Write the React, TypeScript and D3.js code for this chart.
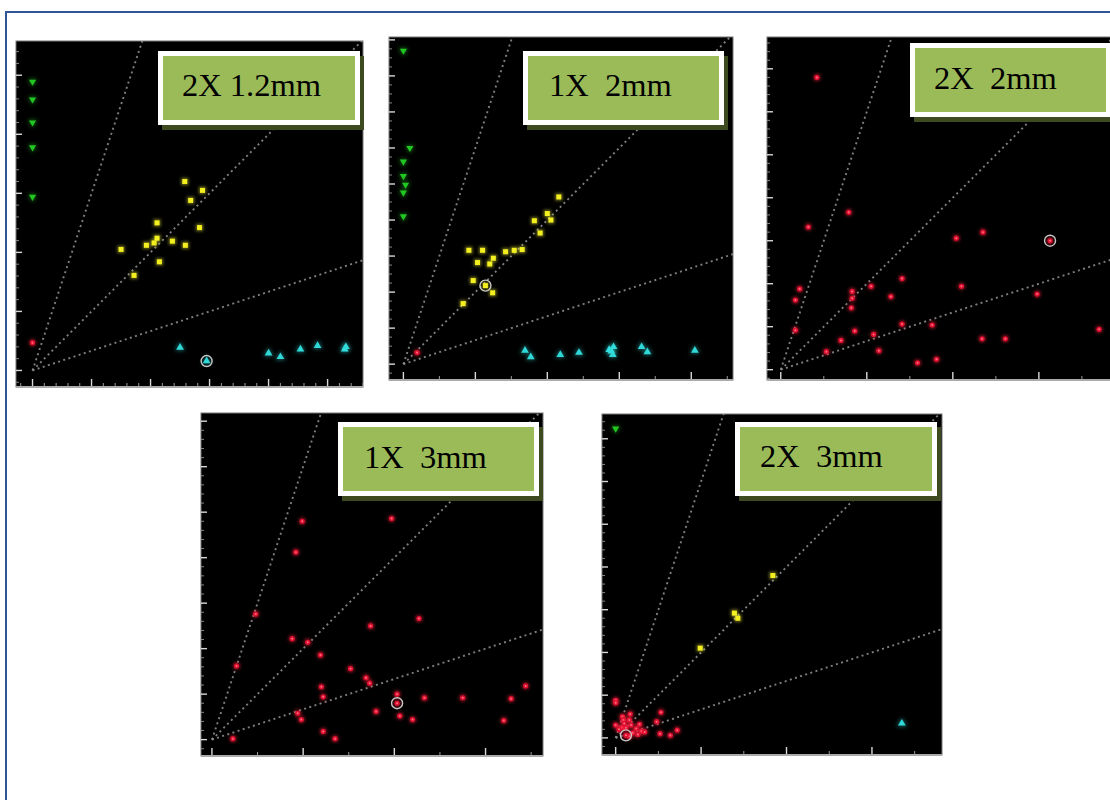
import React from 'react';
import * as d3 from 'd3';

type Pt = [number, number];

// ---------- labels ----------
const panelLabels = ["2X 1.2mm", "1X  2mm", "2X  2mm", "1X  3mm", "2X  3mm"];

// ---------- reference line slopes ----------
const refSlopes = [3, 1, 1 / 3];

// ---------- axis extents (data units) ----------
const xDomains: Pt[] = [[-0.28, 5.6], [-0.2, 4.58], [-0.16, 3.85], [-0.12, 3.63], [-0.16, 3.82]];
const yDomains: Pt[] = [[-0.28, 5.58], [-0.22, 4.54], [-0.12, 3.87], [-0.18, 3.59], [-0.2, 3.79]];
const xMajorSteps = [1, 1, 1, 1, 1];
const xMinorSteps = [0.2, 0.5, 0.5, 0.5, 0.5];
const yMajorSteps = [1, 0.5, 0.5, 0.5, 0.5];
const yMinorSteps = [0.2, 0.125, 0.1, 0.1, 0.1];

// ---------- panel 1: 2X 1.2mm ----------
const p1Green: Pt[] = [[0, 4.89], [0, 4.59], [0, 4.2], [0, 3.78], [0, 2.94]];
const p1Red: Pt[] = [[0, 0.47]];
const p1Yellow: Pt[] = [[2.58, 3.2], [2.88, 3.05], [2.68, 2.88], [2.11, 2.5], [2.83, 2.42], [2.11, 2.24], [2.06, 2.16], [1.93, 2.12], [2.37, 2.19], [2.59, 2.12], [1.5, 2.05], [2.15, 1.84], [1.72, 1.61]];
const p1Cyan: Pt[] = [[2.5, 0.39], [2.95, 0.16], [4.0, 0.29], [4.2, 0.23], [4.54, 0.36], [4.83, 0.42], [5.29, 0.36], [5.31, 0.4]];
const p1Highlight: Pt = [2.95, 0.16];

// ---------- panel 2: 1X 2mm ----------
const p2Green: Pt[] = [[0, 4.35], [0.09, 3.0], [0, 2.81], [0, 2.61], [0.03, 2.49], [0, 2.38], [0, 2.05]];
const p2Red: Pt[] = [[0.19, 0.16]];
const p2Yellow: Pt[] = [[2.16, 2.32], [2.0, 2.09], [1.82, 1.99], [2.05, 2.0], [1.9, 1.82], [0.91, 1.58], [1.1, 1.58], [1.42, 1.56], [1.54, 1.58], [1.65, 1.59], [1.03, 1.41], [1.2, 1.39], [1.25, 1.47], [0.97, 1.16], [1.14, 1.09], [1.24, 0.99], [0.83, 0.84]];
const p2Cyan: Pt[] = [[1.69, 0.19], [1.77, 0.1], [2.18, 0.13], [2.44, 0.16], [2.86, 0.2], [2.92, 0.24], [2.89, 0.18], [2.91, 0.13], [3.31, 0.24], [3.39, 0.17], [4.05, 0.19]];
const p2Highlight: Pt = [1.14, 1.09];

// ---------- panel 3: 2X 2mm ----------
const p3Red: Pt[] = [[0.42, 3.4], [0.79, 1.83], [0.32, 1.66], [2.04, 1.53], [2.35, 1.6], [3.13, 1.5], [1.41, 1.06], [1.05, 0.97], [2.1, 0.97], [0.22, 0.94], [0.17, 0.81], [0.83, 0.91], [0.83, 0.83], [1.28, 0.85], [0.82, 0.72], [2.98, 0.88], [0.17, 0.46], [0.86, 0.45], [1.41, 0.53], [1.76, 0.52], [1.08, 0.41], [0.7, 0.34], [0.53, 0.21], [1.14, 0.22], [2.34, 0.36], [2.61, 0.36], [1.59, 0.08], [1.81, 0.12], [3.7, 0.47]];
const p3Highlight: Pt = [3.13, 1.5];

// ---------- panel 4: 1X 3mm ----------
const p4Red: Pt[] = [[0.99, 2.4], [1.97, 2.43], [0.92, 2.06], [0.48, 1.38], [2.27, 1.33], [1.74, 1.25], [0.27, 0.81], [0.88, 1.11], [1.05, 1.07], [1.19, 0.93], [1.52, 0.78], [1.69, 0.68], [1.73, 0.62], [1.2, 0.58], [1.22, 0.47], [2.03, 0.5], [2.03, 0.4], [2.33, 0.46], [2.75, 0.46], [3.28, 0.45], [3.44, 0.59], [0.94, 0.29], [0.98, 0.22], [1.8, 0.31], [2.06, 0.26], [2.2, 0.22], [3.2, 0.21], [1.22, 0.09], [1.35, 0.01], [0.23, 0.01]];
const p4Highlight: Pt = [2.03, 0.4];

// ---------- panel 5: 2X 3mm ----------
const p5Green: Pt[] = [[0, 3.62]];
const p5Yellow: Pt[] = [[1.84, 1.9], [1.39, 1.46], [1.43, 1.4], [0.99, 1.05]];
const p5Cyan: Pt[] = [[3.35, 0.17]];
const p5Red: Pt[] = [[0.0, 0.44], [0.0, 0.41], [0.08, 0.25], [0.17, 0.28], [0.53, 0.3], [0.48, 0.19], [0.09, 0.21], [0.16, 0.21], [0.0, 0.15], [0.07, 0.12], [0.12, 0.12], [0.18, 0.15], [0.28, 0.16], [0.24, 0.11], [0.3, 0.08], [0.34, 0.07], [0.2, 0.06], [0.26, 0.04], [0.16, 0.02], [0.52, 0.05], [0.64, 0.03], [0.72, 0.09], [0.12, 0.03], [0.04, 0.1], [0.1, 0.17]];
const p5Highlight: Pt = [0.12, 0.03];

// ---------- layout (pixels) ----------
const panelBoxes = [
  { x: 16, y: 41, w: 347, h: 346 },
  { x: 389, y: 37, w: 344, h: 343 },
  { x: 767, y: 37, w: 345, h: 343 },
  { x: 201, y: 413, w: 342, h: 343 },
  { x: 602, y: 414, w: 340, h: 341 },
];
const labelBoxes = [
  { x: 158, y: 51, w: 202, h: 74, tx: 182, ty: 96 },
  { x: 523, y: 51, w: 201, h: 74, tx: 549, ty: 96 },
  { x: 910, y: 43, w: 201, h: 74, tx: 934, ty: 89 },
  { x: 338, y: 422, w: 201, h: 74, tx: 364, ty: 468 },
  { x: 735, y: 422, w: 202, h: 74, tx: 760, ty: 467 },
];

interface Series { pts: Pt[]; kind: 'green' | 'red' | 'yellow' | 'cyan' }
const panelSeries: Series[][] = [
  [{ pts: p1Green, kind: 'green' }, { pts: p1Red, kind: 'red' }, { pts: p1Yellow, kind: 'yellow' }, { pts: p1Cyan, kind: 'cyan' }],
  [{ pts: p2Green, kind: 'green' }, { pts: p2Red, kind: 'red' }, { pts: p2Yellow, kind: 'yellow' }, { pts: p2Cyan, kind: 'cyan' }],
  [{ pts: p3Red, kind: 'red' }],
  [{ pts: p4Red, kind: 'red' }],
  [{ pts: p5Green, kind: 'green' }, { pts: p5Red, kind: 'red' }, { pts: p5Yellow, kind: 'yellow' }, { pts: p5Cyan, kind: 'cyan' }],
];
const highlights: Pt[] = [p1Highlight, p2Highlight, p3Highlight, p4Highlight, p5Highlight];

const triUp = d3.symbol().type(d3.symbolTriangle).size(26)() as string;
const triDown = d3.symbol().type(d3.symbolTriangle).size(22)() as string;

function ticksBetween(lo: number, hi: number, step: number): number[] {
  const out: number[] = [];
  const start = Math.ceil(lo / step - 1e-9);
  for (let i = start; i * step <= hi + 1e-9; i++) out.push(+(i * step).toFixed(4));
  return out;
}

function Marker({ kind, x, y }: { kind: string; x: number; y: number }) {
  if (kind === 'yellow') {
    return (
      <g>
        <rect x={x - 3.8} y={y - 3.8} width={7.6} height={7.6} fill="#ffff40" opacity={0.4} filter="url(#glow)" />
        <rect x={x - 2.5} y={y - 2.5} width={5} height={5} fill="#f4f020" />
      </g>
    );
  }
  if (kind === 'red') {
    return (
      <g>
        <circle cx={x} cy={y} r={3.9} fill="#ff2040" opacity={0.45} filter="url(#glow)" />
        <circle cx={x} cy={y} r={2.6} fill="#e01030" />
        <circle cx={x} cy={y} r={1} fill="#ff7080" />
      </g>
    );
  }
  if (kind === 'green') {
    return (
      <g transform={`translate(${x},${y}) rotate(180)`}>
        <path d={triDown} fill="#30e030" opacity={0.45} filter="url(#glow)" transform="scale(1.35)" />
        <path d={triDown} fill="#22c822" />
      </g>
    );
  }
  return (
    <g transform={`translate(${x},${y})`}>
      <path d={triUp} fill="#40ffff" opacity={0.4} filter="url(#glow)" transform="scale(1.35)" />
      <path d={triUp} fill="#30d8d8" />
    </g>
  );
}

function Panel({ i }: { i: number }) {
  const b = panelBoxes[i];
  const x = d3.scaleLinear().domain(xDomains[i]).range([b.x, b.x + b.w]);
  const y = d3.scaleLinear().domain(yDomains[i]).range([b.y + b.h, b.y]);
  const xMaj = ticksBetween(xDomains[i][0], xDomains[i][1], xMajorSteps[i]);
  const xMin = ticksBetween(xDomains[i][0], xDomains[i][1], xMinorSteps[i]);
  const yMaj = ticksBetween(yDomains[i][0], yDomains[i][1], yMajorSteps[i]);
  const yMin = ticksBetween(yDomains[i][0], yDomains[i][1], yMinorSteps[i]);
  const isMaj = (v: number, s: number) => Math.abs(v / s - Math.round(v / s)) < 1e-6;
  const line = d3.line<Pt>().x(d => x(d[0])).y(d => y(d[1]));
  const far = 20;
  const lb = labelBoxes[i];
  const hl = highlights[i];
  const bottom = b.y + b.h;
  return (
    <g>
      <defs>
        <clipPath id={`clip${i}`}>
          <rect x={b.x} y={b.y} width={b.w} height={b.h} />
        </clipPath>
      </defs>
      <rect x={b.x} y={b.y} width={b.w} height={b.h} fill="#000" stroke="#777" strokeWidth={1} />
      <g clipPath={`url(#clip${i})`}>
        {refSlopes.map((s, k) => (
          <path key={k} d={line([[0, 0], [far, far * s]]) as string} stroke="#8c8c8c" strokeWidth={1.9} strokeDasharray="2,3.4" fill="none" opacity={0.9} />
        ))}
        {/* x ticks */}
        {xMin.filter(v => !isMaj(v, xMajorSteps[i])).map((v, k) => (
          <line key={'xm' + k} x1={x(v)} x2={x(v)} y1={bottom} y2={bottom - 4} stroke="#9a9a9a" strokeWidth={1} />
        ))}
        {xMaj.map((v, k) => (
          <line key={'xM' + k} x1={x(v)} x2={x(v)} y1={bottom} y2={bottom - 8} stroke="#d8d8d8" strokeWidth={1.4} />
        ))}
        {/* y ticks */}
        {yMin.filter(v => !isMaj(v, yMajorSteps[i])).map((v, k) => (
          <line key={'ym' + k} x1={b.x} x2={b.x + 3} y1={y(v)} y2={y(v)} stroke="#888" strokeWidth={1} />
        ))}
        {yMaj.map((v, k) => (
          <line key={'yM' + k} x1={b.x} x2={b.x + 6} y1={y(v)} y2={y(v)} stroke="#d8d8d8" strokeWidth={1.4} />
        ))}
        {panelSeries[i].map((s, k) => (
          <g key={k}>
            {s.pts.map((p, j) => <Marker key={j} kind={s.kind} x={x(p[0])} y={y(p[1])} />)}
          </g>
        ))}
        <circle cx={x(hl[0])} cy={y(hl[1])} r={5.5} fill="none" stroke="#c8c8c8" strokeWidth={1.4} />
      </g>
      <line x1={b.x} x2={b.x + b.w} y1={bottom} y2={bottom} stroke="#aaa" strokeWidth={2} />
      {/* label */}
      <rect x={lb.x + 4} y={lb.y + 5} width={lb.w} height={lb.h} fill="#3e4a1f" />
      <rect x={lb.x} y={lb.y} width={lb.w} height={lb.h} fill="#ffffff" />
      <rect x={lb.x + 5} y={lb.y + 5} width={lb.w - 10} height={lb.h - 10} fill="#9bbb59" />
      <text x={lb.tx} y={lb.ty} fontFamily="'Liberation Serif', 'Times New Roman', serif" fontSize={32.5} fill="#000" style={{ whiteSpace: 'pre' }}>
        {panelLabels[i]}
      </text>
    </g>
  );
}

export default function App() {
  return (
    <svg width={1110} height={800} style={{ position: 'absolute', left: 0, top: 0, background: '#fff' }}>
      <defs>
        <filter id="glow" x="-100%" y="-100%" width="300%" height="300%">
          <feGaussianBlur stdDeviation={1.4} />
        </filter>
      </defs>
      <rect x={0} y={0} width={1110} height={800} fill="#fff" />
      <rect x={6} y={12} width={1130} height={820} fill="none" stroke="#2f5597" strokeWidth={2} />
      {panelBoxes.map((_, i) => <Panel key={i} i={i} />)}
    </svg>
  );
}
